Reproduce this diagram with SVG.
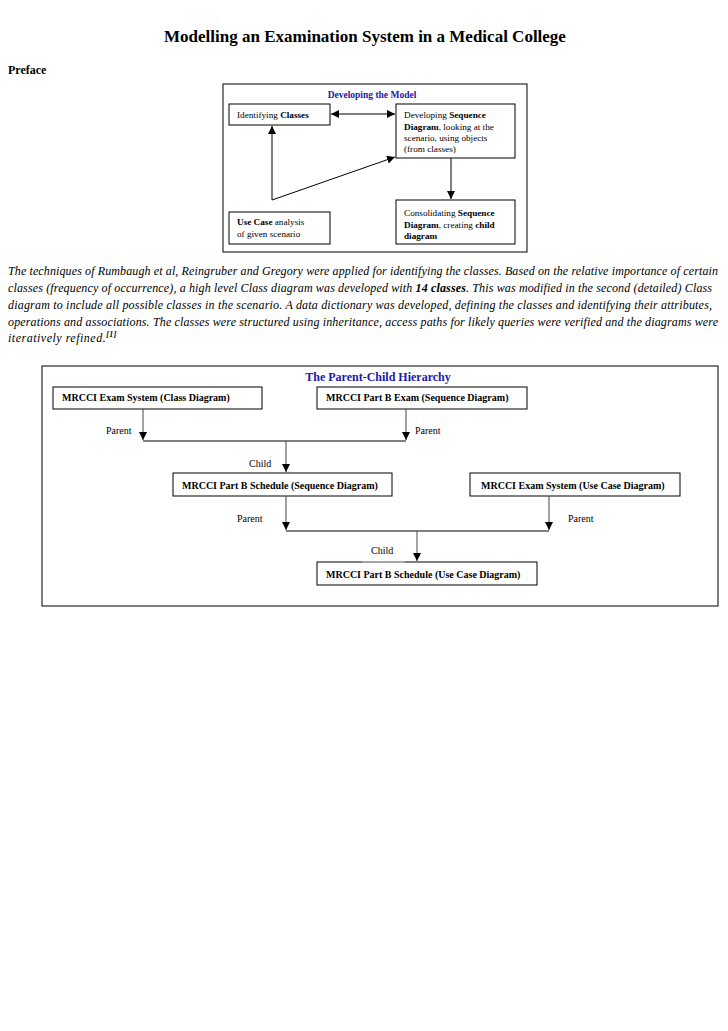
<svg xmlns="http://www.w3.org/2000/svg" width="728" height="1031" viewBox="0 0 728 1031">
<defs>
<style>
text{font-family:"Liberation Serif","Times New Roman",serif;fill:#000}
.title{font-size:17px;font-weight:bold}
.h{font-size:12px;font-weight:bold}
.blue{fill:#1a1aa6;font-weight:bold}
.s{font-size:9.2px}
.n{font-size:10px;font-weight:bold}
.lbl{font-size:10px}
.p{font-size:12px;font-style:italic}
.box{fill:#fff;stroke:#000;stroke-width:1}
.ln{fill:none;stroke:#000;stroke-width:1}
.gl{fill:none;stroke:#444;stroke-width:1}
</style>
<marker id="ah" viewBox="0 0 10 10" refX="10" refY="5" markerWidth="8" markerHeight="8" markerUnits="userSpaceOnUse" orient="auto-start-reverse">
<path d="M0,0 L10,5 L0,10 z" fill="#000"/>
</marker>
</defs>
<rect width="728" height="1031" fill="#fff"/>
<text class="title" x="365" y="42" text-anchor="middle">Modelling an Examination System in a Medical College</text>
<text class="h" x="8" y="74">Preface</text>

<g id="model-frame">
<rect class="box" x="223" y="84" width="304" height="168"/>
<text class="blue" x="372" y="98" font-size="9.5" text-anchor="middle">Developing the Model</text>
</g>
<g id="identifying-classes">
<rect class="box" x="229" y="104" width="101" height="21"/>
<text class="s" x="237" y="118">Identifying <tspan font-weight="bold">Classes</tspan></text>
</g>
<g id="developing-sequence">
<rect class="box" x="396" y="104" width="119" height="54"/>
<text class="s" x="404" y="118">Developing <tspan font-weight="bold">Sequence</tspan></text>
<text class="s" x="404" y="130"><tspan font-weight="bold">Diagram</tspan>, looking at the</text>
<text class="s" x="404" y="141">scenario, using objects</text>
<text class="s" x="404" y="152">(from classes)</text>
</g>
<g id="consolidating">
<rect class="box" x="396" y="200" width="119" height="44"/>
<text class="s" x="404" y="216">Consolidating <tspan font-weight="bold">Sequence</tspan></text>
<text class="s" x="404" y="228"><tspan font-weight="bold">Diagram</tspan>, creating <tspan font-weight="bold">child</tspan></text>
<text class="s" x="404" y="239" font-weight="bold">diagram</text>
</g>
<g id="use-case">
<rect class="box" x="229" y="212" width="101" height="32"/>
<text class="s" x="237" y="225"><tspan font-weight="bold">Use Case</tspan> analysis</text>
<text class="s" x="237" y="237">of given scenario</text>
</g>
<g id="model-connectors">
<line class="ln" x1="331" y1="114" x2="395" y2="114" marker-start="url(#ah)" marker-end="url(#ah)"/>
<line class="ln" x1="272" y1="200" x2="272" y2="126" marker-end="url(#ah)"/>
<line class="ln" x1="272" y1="200" x2="395" y2="157" marker-end="url(#ah)"/>
<line class="ln" x1="451" y1="158" x2="451" y2="199" marker-end="url(#ah)"/>
</g>

<g id="paragraph">
<text class="p" x="8" y="275" textLength="710" lengthAdjust="spacing">The techniques of Rumbaugh et al, Reingruber and Gregory were applied for identifying the classes. Based on the relative importance of certain</text>
<text class="p" x="8" y="292" textLength="704" lengthAdjust="spacing">classes (frequency of occurrence), a high level Class diagram was developed with <tspan font-weight="bold">14 classes</tspan>. This was modified in the second (detailed) Class</text>
<text class="p" x="8" y="309" textLength="704" lengthAdjust="spacing">diagram to include all possible classes in the scenario. A data dictionary was developed, defining the classes and identifying their attributes,</text>
<text class="p" x="8" y="326" textLength="710" lengthAdjust="spacing">operations and associations. The classes were structured using inheritance, access paths for likely queries were verified and the diagrams were</text>
<text class="p" x="8" y="342" letter-spacing="0.5">iteratively refined.<tspan font-size="8" dy="-5" font-weight="bold">[1]</tspan></text>
</g>

<g id="hierarchy-frame">
<rect class="box" x="42" y="366" width="676" height="240"/>
<text class="h blue" x="378" y="381" text-anchor="middle">The Parent-Child Hierarchy</text>
</g>
<g id="n1">
<rect class="box" x="53" y="387" width="209" height="22"/>
<text class="n" x="62" y="401">MRCCI Exam System (Class Diagram)</text>
</g>
<g id="n2">
<rect class="box" x="317" y="387" width="210" height="22"/>
<text class="n" x="326" y="401">MRCCI Part B Exam (Sequence Diagram)</text>
</g>
<g id="n3">
<rect class="box" x="173" y="473" width="219" height="23"/>
<text class="n" x="182" y="489">MRCCI Part B Schedule (Sequence Diagram)</text>
</g>
<g id="n4">
<rect class="box" x="470" y="473" width="210" height="23"/>
<text class="n" x="481" y="489">MRCCI Exam System (Use Case Diagram)</text>
</g>
<g id="n5">
<rect class="box" x="317" y="562" width="220" height="23"/>
<line x1="362" y1="562" x2="405" y2="562" stroke="#ccc" stroke-width="1"/>
<text class="n" x="326" y="578">MRCCI Part B Schedule (Use Case Diagram)</text>
</g>
<g id="hierarchy-connectors">
<line class="gl" x1="143" y1="409" x2="143" y2="440" marker-end="url(#ah)"/>
<line class="gl" x1="406" y1="409" x2="406" y2="440" marker-end="url(#ah)"/>
<line class="ln" x1="143" y1="441" x2="406" y2="441"/>
<line class="gl" x1="286" y1="441" x2="286" y2="472" marker-end="url(#ah)"/>
<line class="gl" x1="286" y1="496" x2="286" y2="530" marker-end="url(#ah)"/>
<line class="gl" x1="549" y1="496" x2="549" y2="530" marker-end="url(#ah)"/>
<line class="ln" x1="286" y1="531" x2="549" y2="531"/>
<line class="gl" x1="417" y1="531" x2="417" y2="561" marker-end="url(#ah)"/>
<text class="lbl" x="106" y="434">Parent</text>
<text class="lbl" x="415" y="434">Parent</text>
<text class="lbl" x="249" y="467">Child</text>
<text class="lbl" x="237" y="522">Parent</text>
<text class="lbl" x="568" y="522">Parent</text>
<text class="lbl" x="371" y="554">Child</text>
</g>
</svg>
